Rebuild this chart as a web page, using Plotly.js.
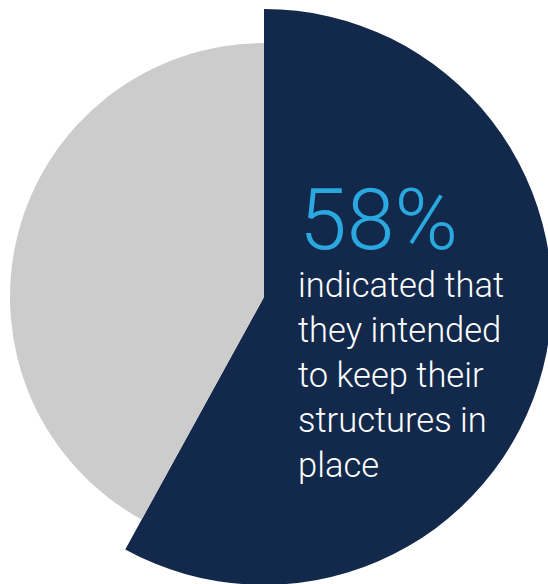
<!DOCTYPE html>
<html>
<head>
<meta charset="utf-8">
<script src="https://cdn.plot.ly/plotly-3.0.1.min.js"></script>
<style>
html,body{margin:0;padding:0;width:548px;height:584px;overflow:hidden;background:#fff;}
#chart{position:absolute;left:-56px;top:-23px;width:640px;height:640px;}
</style>
</head>
<body>
<div id="chart"></div>
<script>
// Data
const labels = ["Keep structures in place", "Other"];
const values = [58, 42];
const headline = "58%";
const captionLines = ["indicated that", "they intended", "to keep their", "structures in", "place"];

const NAVY = "#13294b";
const GRAY = "#cccccc";
const BLUE = "#2aa8e0";

// Geometry (page pixels), converted to the 640x640 div's paper space
const OFFX = 56, OFFY = 23, SIZE = 640;
const cx = 264 + OFFX, cy = 297 + OFFY;
const rNavy = 288, rGray = 254;
function dom(r){ return [(cx - r)/SIZE, (cx + r)/SIZE]; }
function domY(r){ return [1 - (cy + r)/SIZE, 1 - (cy - r)/SIZE]; }
function px(x){ return (x + OFFX)/SIZE; }
function py(y){ return 1 - (y + OFFY)/SIZE; }

const traces = [
  {
    type: "pie", labels: labels, values: values, sort: false,
    direction: "clockwise", rotation: 0,
    marker: {colors: [NAVY, "rgba(0,0,0,0)"], line: {width: 0}},
    textinfo: "none", hoverinfo: "label+percent",
    domain: {x: dom(rNavy), y: domY(rNavy)}, showlegend: false
  },
  {
    type: "pie", labels: labels, values: values, sort: false,
    direction: "clockwise", rotation: 0,
    marker: {colors: ["rgba(0,0,0,0)", GRAY], line: {width: 0}},
    textinfo: "none", hoverinfo: "label+percent",
    domain: {x: dom(rGray), y: domY(rGray)}, showlegend: false
  }
];

const annotations = [{
  text: headline, xref: "paper", yref: "paper",
  x: px(297), y: py(219), xanchor: "left", yanchor: "middle",
  showarrow: false,
  font: {family: "Roboto", size: 86, color: BLUE, weight: 300}
}];
captionLines.forEach(function(t, i){
  annotations.push({
    text: t, xref: "paper", yref: "paper",
    x: px(296), y: py(285 + 45*i), xanchor: "left", yanchor: "middle",
    showarrow: false,
    font: {family: "Roboto", size: 34.5, color: "#ffffff", weight: 300}
  });
});

const layout = {
  width: 640, height: 640,
  margin: {l: 0, r: 0, t: 0, b: 0},
  paper_bgcolor: "rgba(0,0,0,0)", plot_bgcolor: "rgba(0,0,0,0)",
  showlegend: false,
  annotations: annotations
};

Plotly.newPlot("chart", traces, layout, {displayModeBar: false, staticPlot: true});
</script>
</body>
</html>
